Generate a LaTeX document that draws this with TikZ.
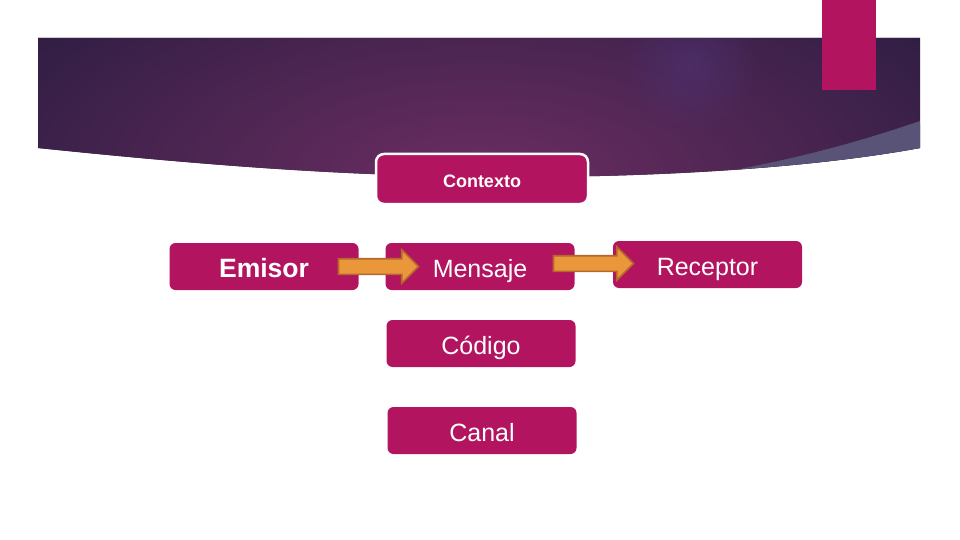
\documentclass[tikz,border=0pt]{standalone}
\usepackage{fontspec}
\setmainfont{Liberation Sans}
\usetikzlibrary{shapes.arrows,fadings}
\definecolor{bgdark}{HTML}{221A3C}
\definecolor{bglight}{HTML}{6C2E62}
\definecolor{bghilite}{HTML}{4E3275}
\definecolor{bgwedge}{HTML}{5A5378}
\definecolor{boxpink}{HTML}{B3145F}
\definecolor{arroworange}{HTML}{EA973B}
\definecolor{arrowbrown}{HTML}{B4682C}
\tikzfading[name=glow, inner color=transparent!0, outer color=transparent!100]

\begin{document}
\begin{tikzpicture}[
    x=1pt,y=-1pt,
    caja/.style={rounded corners=6pt, fill=boxpink, text=white, minimum width=189pt, minimum height=47pt, inner sep=0pt, text height=21pt, text depth=0pt, font=\fontsize{25}{28}\selectfont},
    flecha/.style={single arrow, draw=arrowbrown, fill=arroworange, line width=1.6pt, inner xsep=0pt, inner ysep=7pt, single arrow head extend=9pt, minimum height=80pt, anchor=tail}
  ]
    \useasboundingbox (0,0) rectangle (960,540);

    % banner
    \begin{scope}
      \clip (38,38) -- (920,38) -- (920,148) .. controls (800,170) and (640,177) .. (520,177) .. controls (380,177) and (250,170) .. (38,148) -- cycle;
      \fill[bgdark] (0,0) rectangle (960,200);
      \shade[inner color=bglight, outer color=bgdark] (480,180) ellipse (680 and 310);
      \fill[bghilite, opacity=0.6, path fading=glow] (690,65) circle (70);
      \fill[bgwedge] (920,121) .. controls (830,152) and (760,166) .. (680,180) -- (940,200) -- cycle;
    \end{scope}
    \fill[boxpink] (822,0) rectangle (876,90);

    \node[caja, minimum width=212pt, minimum height=50pt, rounded corners=8pt, draw=white, line width=2.5pt, text height=16pt, font=\fontsize{18}{20}\selectfont\bfseries] (contexto) at (482,179) {Contexto};
    \node[caja, text height=22pt, font=\fontsize{26.5}{30}\selectfont\bfseries] (emisor) at (264,266.5) {Emisor};
    \node[caja] (mensaje) at (480,266.5) {Mensaje};
    \node[caja] (receptor) at (707.5,264.5) {Receptor};
    \node[caja] (codigo) at (481,343.5) {Código};
    \node[caja] (canal) at (482,430.5) {Canal};

    \node[flecha] (f1) at ([xshift=-21pt]emisor.east) {};
    \node[flecha] (f2) at ([xshift=-22pt,yshift=3pt]mensaje.east) {};
\end{tikzpicture}
\end{document}
